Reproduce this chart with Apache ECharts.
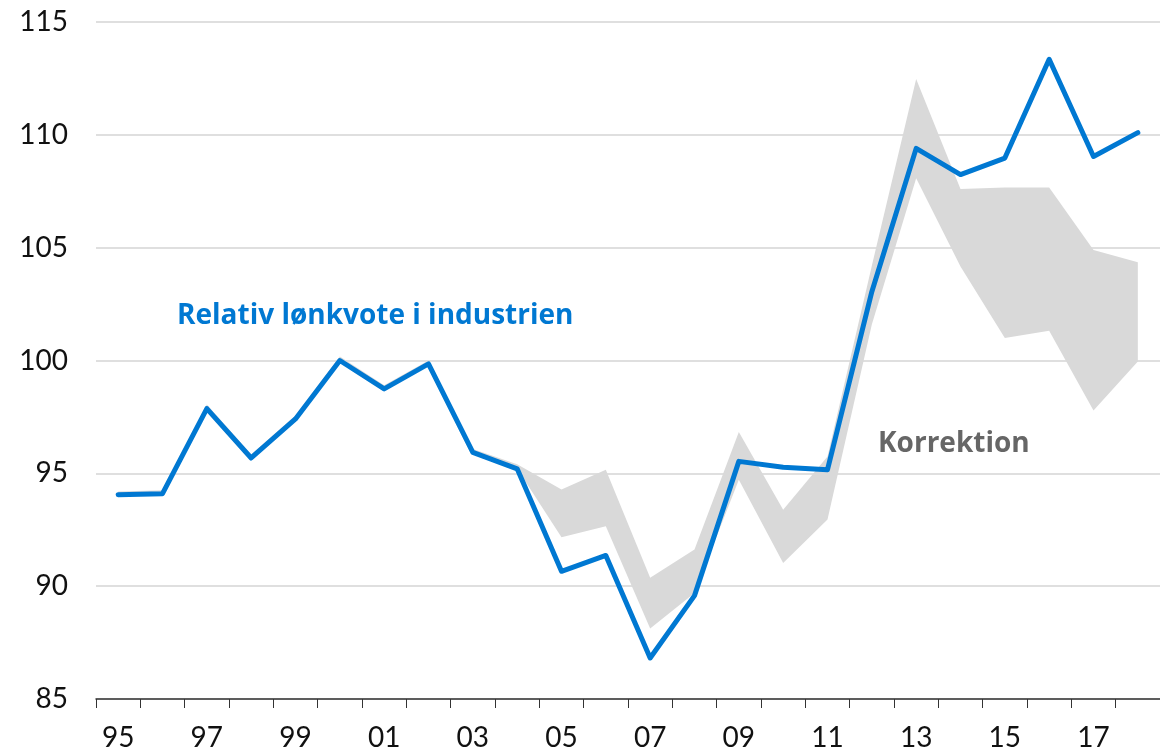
<!DOCTYPE html>
<html>
<head>
<meta charset="utf-8">
<script src="https://cdn.jsdelivr.net/npm/echarts@6/dist/echarts.min.js"></script>
<style>
html,body{margin:0;padding:0;background:#fff;}
#chart{width:1160px;height:753px;}
</style>
</head>
<body>
<div id="chart"></div>
<script>
const years = ['95','96','97','98','99','00','01','02','03','04','05','06','07','08','09','10','11','12','13','14','15','16','17','18'];
const lonkvote = [94.05,94.1,97.87,95.68,97.41,100.0,98.74,99.85,95.93,95.2,90.66,91.36,86.82,89.58,95.53,95.27,95.16,103.05,109.4,108.24,108.97,113.35,109.04,110.1];
const bandLower = [94.05,94.1,97.87,95.68,97.41,100.0,98.74,99.85,95.93,95.2,92.17,92.65,88.12,89.7,94.72,91.03,92.95,101.6,108.08,104.17,101.0,101.32,97.78,99.96];
const bandUpper = [94.2,94.25,98.05,95.83,97.56,100.18,98.9,100.0,96.08,95.4,94.28,95.16,90.37,91.62,96.83,93.39,95.75,104.2,112.47,107.6,107.67,107.67,104.9,104.35];
const yTicks = [85,90,95,100,105,110,115];

const bandDiff = bandUpper.map((u,i)=> +(u - bandLower[i]).toFixed(3));
const FONT = 'Lato, "Open Sans", "DejaVu Sans", sans-serif';
const NOTE_FONT = '"Open Sans", Lato, "DejaVu Sans", sans-serif';

const chart = echarts.init(document.getElementById('chart'), null, {renderer:'canvas'});
chart.setOption({
  animation:false,
  backgroundColor:'#ffffff',
  grid:{left:96, right:-6, top:22, bottom:54, containLabel:false},
  xAxis:{
    type:'category',
    data:years,
    boundaryGap:true,
    axisLine:{show:true, lineStyle:{color:'#333333', width:1.5}},
    axisTick:{show:true, interval:0, length:9, lineStyle:{color:'#333333', width:1}},
    axisLabel:{interval:1, fontSize:28, color:'#111111', fontFamily:FONT, margin:25},
    splitLine:{show:false}
  },
  yAxis:{
    type:'value',
    min:yTicks[0], max:yTicks[yTicks.length-1], interval:5,
    axisLine:{show:false}, axisTick:{show:false},
    axisLabel:{fontSize:28, color:'#111111', fontFamily:FONT, margin:28},
    splitLine:{show:true, lineStyle:{color:'#d4d4d4', width:1.5}}
  },
  series:[
    {name:'base', type:'line', data:bandLower, stack:'band', symbol:'none',
     lineStyle:{opacity:0, width:0}, silent:true, z:1},
    {name:'Korrektion', type:'line', data:bandDiff, stack:'band', symbol:'none',
     lineStyle:{opacity:0, width:0}, areaStyle:{color:'#d9d9d9', opacity:1}, silent:true, z:1},
    {name:'Relativ lønkvote i industrien', type:'line', data:lonkvote, symbol:'none',
     lineStyle:{color:'#0078d2', width:5, join:'round', cap:'round'}, z:3}
  ],
  graphic:[
    {type:'text', left:177, top:302, z:10,
     style:{text:'Relativ lønkvote i industrien', fill:'#0078d2', font:'bold 28px '+NOTE_FONT}},
    {type:'text', left:878, top:430, z:10,
     style:{text:'Korrektion', fill:'#666666', font:'bold 28px '+NOTE_FONT}}
  ]
});
</script>
</body>
</html>
